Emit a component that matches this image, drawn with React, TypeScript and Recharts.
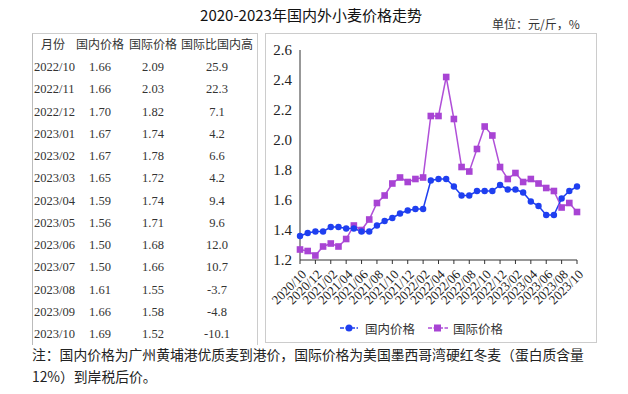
import React from 'react';
import { LineChart, Line, XAxis, YAxis, Legend } from 'recharts';

const months = [
  '2020/10', '2020/11', '2020/12', '2021/01', '2021/02', '2021/03', '2021/04', '2021/05', '2021/06', '2021/07',
  '2021/08', '2021/09', '2021/10', '2021/11', '2021/12', '2022/01', '2022/02', '2022/03', '2022/04', '2022/05',
  '2022/06', '2022/07', '2022/08', '2022/09', '2022/10', '2022/11', '2022/12', '2023/01', '2023/02', '2023/03',
  '2023/04', '2023/05', '2023/06', '2023/07', '2023/08', '2023/09', '2023/10',
];
const domesticPrice = [
  1.36, 1.38, 1.39, 1.39, 1.42, 1.42, 1.41, 1.41, 1.39, 1.39,
  1.43, 1.46, 1.48, 1.51, 1.53, 1.54, 1.54, 1.73, 1.74, 1.74,
  1.69, 1.63, 1.63, 1.66, 1.66, 1.66, 1.70, 1.67, 1.67, 1.65,
  1.59, 1.56, 1.50, 1.50, 1.61, 1.66, 1.69,
];
const intlPrice = [
  1.27, 1.26, 1.23, 1.29, 1.31, 1.29, 1.34, 1.43, 1.40, 1.47,
  1.58, 1.63, 1.71, 1.75, 1.72, 1.74, 1.75, 2.16, 2.16, 2.42,
  2.14, 1.82, 1.79, 1.94, 2.09, 2.03, 1.82, 1.74, 1.78, 1.72,
  1.74, 1.71, 1.68, 1.66, 1.55, 1.58, 1.52,
];
const yTicks = [1.2, 1.4, 1.6, 1.8, 2.0, 2.2, 2.4, 2.6];

const tableMonths = ['2022/10', '2022/11', '2022/12', '2023/01', '2023/02', '2023/03', '2023/04', '2023/05', '2023/06', '2023/07', '2023/08', '2023/09', '2023/10'];
const tableDomestic = ['1.66', '1.66', '1.70', '1.67', '1.67', '1.65', '1.59', '1.56', '1.50', '1.50', '1.61', '1.66', '1.69'];
const tableIntl = ['2.09', '2.03', '1.82', '1.74', '1.78', '1.72', '1.74', '1.71', '1.68', '1.66', '1.55', '1.58', '1.52'];
const tableDiff = ['25.9', '22.3', '7.1', '4.2', '6.6', '4.2', '9.4', '9.6', '12.0', '10.7', '-3.7', '-4.8', '-10.1'];
const tableHeaders = ['月份', '国内价格', '国际价格', '国际比国内高'];

const title = '2020-2023年国内外小麦价格走势';
const unitText = '单位：元/斤，%';
const noteLine1 = '注：国内价格为广州黄埔港优质麦到港价，国际价格为美国墨西哥湾硬红冬麦（蛋白质含量';
const noteLine2 = '12%）到岸税后价。';

const BLUE = '#1f3ff0';
const PURPLE = '#b050d8';
const SANS = '"Noto Sans CJK SC", "Noto Sans", sans-serif';
const SERIF = '"Liberation Serif", "DejaVu Serif", serif';

const data = months.map((m, i) => ({ month: m, domestic: domesticPrice[i], intl: intlPrice[i] }));

const T = ({ x, y, children, style, anchor = 'center' }: any) => (
  <div
    style={{
      position: 'absolute',
      left: x,
      top: y,
      whiteSpace: 'nowrap',
      transform: anchor === 'center' ? 'translate(-50%,-50%)' : anchor === 'left' ? 'translate(0,-50%)' : 'translate(-100%,-50%)',
      lineHeight: 1,
      ...style,
    }}
  >
    {children}
  </div>
);

const XTick = (props: any) => {
  const { x, y, payload } = props;
  return (
    <g transform={`translate(${x + 4},${y + 6})`}>
      <text x={0} y={0} dy="0.35em" textAnchor="end" transform="rotate(-45)" fontSize={13} fontFamily={SERIF} fill="#222">
        {payload.value}
      </text>
    </g>
  );
};

const CircleDot = (props: any) => {
  const { cx, cy, index } = props;
  if (cx == null || cy == null) return <g key={`c${index}`} />;
  return <circle key={`c${index}`} cx={cx} cy={cy} r={3.2} fill={BLUE} stroke="none" />;
};

const SquareDot = (props: any) => {
  const { cx, cy, index } = props;
  if (cx == null || cy == null) return <g key={`s${index}`} />;
  return <rect key={`s${index}`} x={cx - 3.3} y={cy - 3.3} width={6.6} height={6.6} fill="#a844d4" stroke="none" />;
};

const renderLegend = () => (
  <div style={{ display: 'flex', justifyContent: 'center', alignItems: 'center', height: 20, fontFamily: SANS, fontSize: 12.5, color: '#333' }}>
    <span style={{ display: 'flex', alignItems: 'center', marginRight: 13 }}>
      <svg width={18} height={10} style={{ marginRight: 7 }}>
        <line x1={0} y1={5} x2={18} y2={5} stroke={BLUE} strokeWidth={1.5} strokeDasharray="4 1.5" />
        <circle cx={9} cy={5} r={3.5} fill={BLUE} />
      </svg>
      国内价格
    </span>
    <span style={{ display: 'flex', alignItems: 'center' }}>
      <svg width={20} height={10} style={{ marginRight: 5 }}>
        <line x1={0} y1={5} x2={20} y2={5} stroke={PURPLE} strokeWidth={1.5} strokeDasharray="4 1.5" />
        <rect x={6} y={1.5} width={7} height={7} fill="#a844d4" />
      </svg>
      国际价格
    </span>
  </div>
);

const colCenters = [53, 100, 153, 217];

export default function App() {
  return (
    <div style={{ position: 'absolute', left: 0, top: 0, width: 628, height: 394, background: '#fff', overflow: 'hidden' }}>
      <T x={311} y={14} style={{ fontFamily: SANS, fontSize: 15, color: '#111' }}>{title}</T>
      <T x={536} y={24} style={{ fontFamily: SANS, fontSize: 12, color: '#333' }}>{unitText}</T>

      {/* table frame */}
      <div style={{ position: 'absolute', left: 32, top: 33, width: 226, height: 312, borderLeft: '1px solid #bbb', borderTop: '1px solid #ccc', borderRight: '1px solid #ccc', boxSizing: 'border-box' }} />
      {tableHeaders.map((h, i) => (
        <T key={h} x={colCenters[i]} y={44} style={{ fontFamily: SANS, fontSize: 12, color: '#333' }}>{h}</T>
      ))}
      {tableMonths.map((m, r) => {
        const y = 67 + r * 22.25;
        return (
          <React.Fragment key={m}>
            <T x={34} y={y} anchor="left" style={{ fontFamily: SERIF, fontSize: 12.5, color: '#333' }}>{m}</T>
            <T x={colCenters[1]} y={y} style={{ fontFamily: SERIF, fontSize: 12.5, color: '#333' }}>{tableDomestic[r]}</T>
            <T x={colCenters[2]} y={y} style={{ fontFamily: SERIF, fontSize: 12.5, color: '#333' }}>{tableIntl[r]}</T>
            <T x={colCenters[3]} y={y} style={{ fontFamily: SERIF, fontSize: 12.5, color: '#333' }}>{tableDiff[r]}</T>
          </React.Fragment>
        );
      })}

      {/* chart */}
      <div style={{ position: 'absolute', left: 265, top: 33, width: 332, height: 310, border: '1px solid #ccc', boxSizing: 'border-box' }}>
        <LineChart width={330} height={308} data={data} margin={{ top: 16, right: 19, bottom: 4, left: 0 }}>
          <XAxis
            dataKey="month"
            interval={1}
            tick={<XTick />}
            tickSize={4}
            tickLine={{ stroke: '#333' }}
            axisLine={{ stroke: '#333' }}
            height={58}
          />
          <YAxis
            domain={[1.2, 2.6]}
            ticks={yTicks}
            width={34}
            tickLine={false}
            axisLine={{ stroke: '#333' }}
            tick={{ fontSize: 15, fontFamily: SERIF, fill: '#222' }}
            tickFormatter={(v: number) => v.toFixed(1)}
            interval={0}
          />
          <Legend verticalAlign="bottom" height={20} content={renderLegend} />
          <Line type="linear" dataKey="intl" stroke={PURPLE} strokeWidth={1.5} dot={<SquareDot />} activeDot={false} isAnimationActive={false} />
          <Line type="linear" dataKey="domestic" stroke={BLUE} strokeWidth={1.5} dot={<CircleDot />} activeDot={false} isAnimationActive={false} />
        </LineChart>
      </div>

      <T x={32} y={355} anchor="left" style={{ fontFamily: SANS, fontSize: 13.8, color: '#222' }}>{noteLine1}</T>
      <T x={32} y={377} anchor="left" style={{ fontFamily: SANS, fontSize: 13.8, color: '#222' }}>{noteLine2}</T>
    </div>
  );
}
